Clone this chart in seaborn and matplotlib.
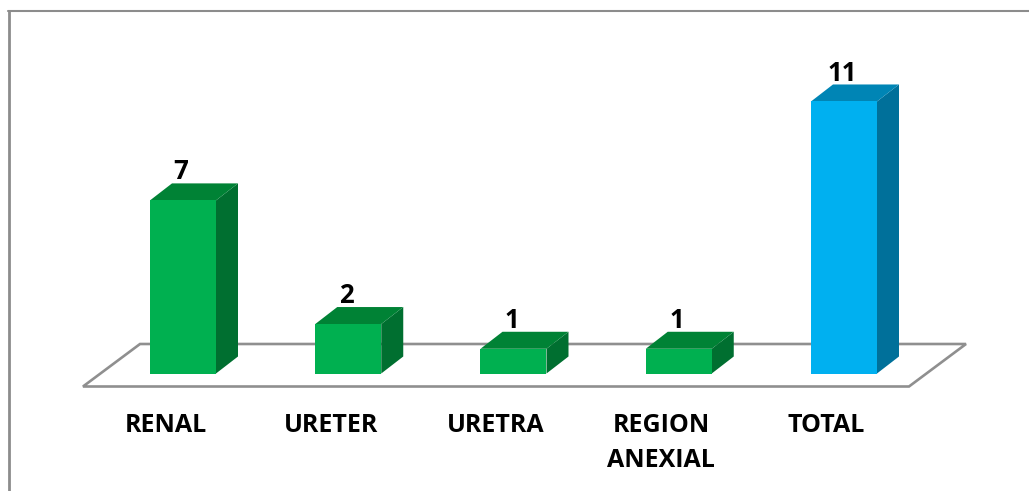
import matplotlib
matplotlib.use("Agg")
import matplotlib.pyplot as plt
from matplotlib.lines import Line2D
from matplotlib.patches import Polygon
import pandas as pd
import seaborn as sns

categories = ["RENAL", "URETER", "URETRA", "REGION\nANEXIAL", "TOTAL"]
values = [7, 2, 1, 1, 11]
front_colors = ["#00B050", "#00B050", "#00B050", "#00B050", "#00B0F0"]
top_colors = ["#008235", "#008235", "#008235", "#008235", "#0085B5"]
side_colors = ["#006F30", "#006F30", "#006F30", "#006F30", "#00709A"]

W, H = 1029, 491
FLOOR_GREY = "#8F8F8F"

sns.set_theme(style="white")
plt.rcParams["font.family"] = ["Open Sans", "DejaVu Sans"]

fig = plt.figure(figsize=(W / 100, H / 100), dpi=100, facecolor="white")
ax = fig.add_axes([0, 0, 1, 1])

df = pd.DataFrame({"category": categories, "value": values})
sns.barplot(data=df, x="category", y="value", hue="category", palette=front_colors,
            legend=False, width=66 / 165.25, saturation=1, linewidth=0, ax=ax, zorder=3)

# Axis scale: 165.25 px per category, 24.73 px per unit, baseline at y = 373.5 px
px_x, px_y = 165.25, 24.73
x0_px, base_px = 183, 373.5
ax.set_xlim(-x0_px / px_x, (W - x0_px) / px_x)
ax.set_ylim(-(H - base_px) / px_y, base_px / px_y)

# Oblique extrusion shared by the bars
dx, dy = 22 / px_x, 17 / px_y

# Floor parallelogram behind the bars
floor_left, floor_right = (83 - x0_px) / px_x, (909 - x0_px) / px_x
floor_y = (base_px - 386.5) / px_y
floor_dx, floor_dy = 57 / px_x, 42.5 / px_y
ax.add_patch(Polygon(
    [(floor_left, floor_y), (floor_right, floor_y),
     (floor_right + floor_dx, floor_y + floor_dy), (floor_left + floor_dx, floor_y + floor_dy)],
    closed=True, facecolor="white", edgecolor=FLOOR_GREY, linewidth=1.9, zorder=1))

# Side and top faces built from each bar's own geometry, plus the value label
for bar, value, top_c, side_c in zip(ax.patches, values, top_colors, side_colors):
    x_l = bar.get_x()
    x_r = x_l + bar.get_width()
    h = bar.get_height()
    ax.add_patch(Polygon([(x_r, 0), (x_r + dx, dy), (x_r + dx, h + dy), (x_r, h)],
                         closed=True, facecolor=side_c, edgecolor="none", zorder=2))
    ax.add_patch(Polygon([(x_l, h), (x_r, h), (x_r + dx, h + dy), (x_l + dx, h + dy)],
                         closed=True, facecolor=top_c, edgecolor="none", zorder=2))
    ax.annotate(str(value), xy=((x_l + x_r) / 2, h + dy), xytext=(-1.5, -1.5),
                textcoords="offset points", ha="center", va="bottom",
                fontsize=18.5, fontweight="bold", color="black", zorder=4)

# Category labels sit under the front edge of the floor, left of the bar centres
ax.set_xticks([i - 17.5 / px_x for i in range(len(categories))])
ax.set_xticklabels(categories)
ax.set_yticks([])
ax.set_xlabel("")
ax.set_ylabel("")
ax.tick_params(axis="x", length=0, direction="in", pad=-56, labelsize=18, labelcolor="black")
for label in ax.get_xticklabels():
    label.set_fontweight("bold")
    label.set_verticalalignment("top")
    label.set_linespacing(1.5)
sns.despine(ax=ax, left=True, bottom=True)
ax.patch.set_alpha(0)

# Outer chart border: only the top and left edges fall inside the image
fig.add_artist(Line2D([8.5 / W, 8.5 / W], [0, 1 - 11 / H], color="#8C8C8C", linewidth=2.0))
fig.add_artist(Line2D([8 / W, 1], [1 - 11 / H, 1 - 11 / H], color="#8C8C8C", linewidth=1.5))

fig.savefig("out.png", dpi=100, facecolor="white")
